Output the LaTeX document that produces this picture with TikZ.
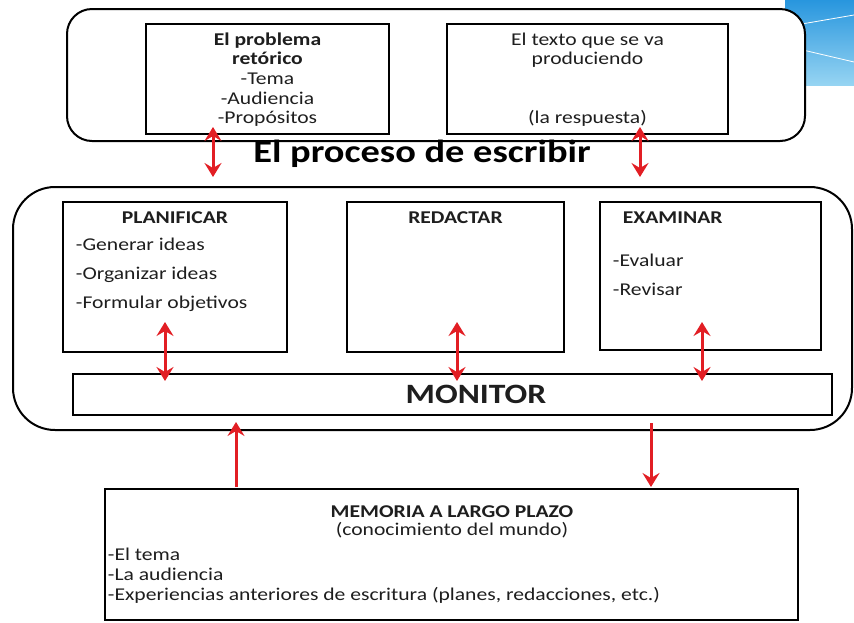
\documentclass[tikz,border=0pt]{standalone}
\usepackage{fontspec}
\setmainfont{Carlito}[FakeStretch=1.2]
\usepackage{tikz}
\usetikzlibrary{arrows.meta}

\definecolor{rojo}{RGB}{226,30,36}
\definecolor{cielo}{RGB}{40,150,222}
\definecolor{cieloclaro}{RGB}{150,212,242}
\definecolor{tinta}{RGB}{30,30,30}

\begin{document}
\begin{tikzpicture}[x=1pt,y=1pt,yscale=-1,
    marco/.style={draw, line width=2pt, rectangle, fill=white, inner sep=0pt},
    caja/.style={draw, line width=1.8pt, rectangle, fill=white, inner sep=0pt},
    txt/.style={anchor=base, inner sep=0.75pt, text=tinta, font=\fontsize{18}{20}\selectfont},
    txtL/.style={txt, anchor=base west},
    cab/.style={txt, font=\fontsize{18}{20}\selectfont\bfseries},
    flechaDoble/.style={draw=rojo, line width=3pt,
        {Stealth[length=14pt,width=17pt,inset=5pt]}-{Stealth[length=14pt,width=17pt,inset=5pt]}},
    flecha/.style={draw=rojo, line width=3pt, -{Stealth[length=14pt,width=17pt,inset=5pt]}}]
    \useasboundingbox (0,0) rectangle (854,622);

    % fondo de la plantilla
    \shade[top color=cielo, bottom color=cieloclaro] (785,0) rectangle (854,85);
    \draw[white, line width=0.8pt] (790,26) -- (854,15);
    \draw[white, line width=0.8pt] (790,47) -- (854,62);

    % marcos
    \node[marco, rounded corners=25pt, minimum width=738pt, minimum height=132pt] (marcoSup) at (436,75) {};
    \node[marco, rounded corners=42pt, minimum width=839pt, minimum height=243pt] (marcoProc) at (432.5,308.5) {};

    % cajas
    \node[caja, minimum width=243pt, minimum height=110pt] (problema) at (267.5,79) {};
    \node[caja, minimum width=281pt, minimum height=110pt] (textoProd) at (587.5,79) {};
    \node[caja, minimum width=224pt, minimum height=150pt] (planificar) at (175,277) {};
    \node[caja, minimum width=217pt, minimum height=150pt] (redactar) at (455.5,277) {};
    \node[caja, minimum width=221pt, minimum height=148pt] (examinar) at (710.5,276) {};
    \node[caja, minimum width=759pt, minimum height=41pt] (monitor) at (452.5,394.5) {};
    \node[caja, minimum width=693pt, minimum height=131pt] (memoria) at (451.5,554.5) {};

    % textos
    \node[cab] (probT1) at (267.5,45) {El problema};
    \node[cab] (probT2) at (267.5,64.7) {retórico};
    \node[txt] (probT3) at (267.5,84.4) {-Tema};
    \node[txt] (probT4) at (267.5,104.1) {-Audiencia};
    \node[txt] (probT5) at (267.5,123.8) {-Propósitos};
    \node[txt] (prodT1) at (587.5,45) {El texto que se va};
    \node[txt] (prodT2) at (587.5,64.7) {produciendo};
    \node[txt] (prodT3) at (587.5,123.8) {(la respuesta)};
    \node[txt, font=\fontsize{32}{34}\selectfont\bfseries, text=black] (titulo) at (422,162) {El proceso de escribir};

    \node[cab] (planT) at (175,223) {PLANIFICAR};
    \node[txtL] (planT1) at (75,250) {-Generar ideas};
    \node[txtL] (planT2) at (75,279) {-Organizar ideas};
    \node[txtL] (planT3) at (75,308) {-Formular objetivos};
    \node[cab] (redT) at (455.5,223) {REDACTAR};
    \node[cab, anchor=base west] (exaT) at (622,223) {EXAMINAR};
    \node[txtL] (exaT1) at (612,266) {-Evaluar};
    \node[txtL] (exaT2) at (612,295) {-Revisar};
    \node[txt, font=\fontsize{28}{30}\selectfont\bfseries] (monT) at (476,403.5) {MONITOR};

    \node[cab] (memT) at (452,517) {MEMORIA A LARGO PLAZO};
    \node[txt] (memT0) at (452,535) {(conocimiento del mundo)};
    \node[txtL] (memT1) at (107,560) {-El tema};
    \node[txtL] (memT2) at (107,580) {-La audiencia};
    \node[txtL] (memT3) at (107,600) {-Experiencias anteriores de escritura (planes, redacciones, etc.)};

    % extremos de las flechas
    \coordinate (probA) at (213,127);  \coordinate (probB) at (213,177);
    \coordinate (prodA) at (640,127);  \coordinate (prodB) at (640,177);
    \coordinate (planA) at (165,322);  \coordinate (planB) at (165,381);
    \coordinate (redA) at (457,322);   \coordinate (redB) at (457,381);
    \coordinate (exaA) at (702,322);   \coordinate (exaB) at (702,381);
    \coordinate (memA) at (236,487);   \coordinate (memB) at (236,422);
    \coordinate (monA) at (651,423);   \coordinate (monB) at (651,487);

    % flechas
    \draw[flechaDoble] (probA) -- (probB);
    \draw[flechaDoble] (prodA) -- (prodB);
    \draw[flechaDoble] (planA) -- (planB);
    \draw[flechaDoble] (redA) -- (redB);
    \draw[flechaDoble] (exaA) -- (exaB);
    \draw[flecha] (memA) -- (memB);
    \draw[flecha] (monA) -- (monB);
\end{tikzpicture}
\end{document}
